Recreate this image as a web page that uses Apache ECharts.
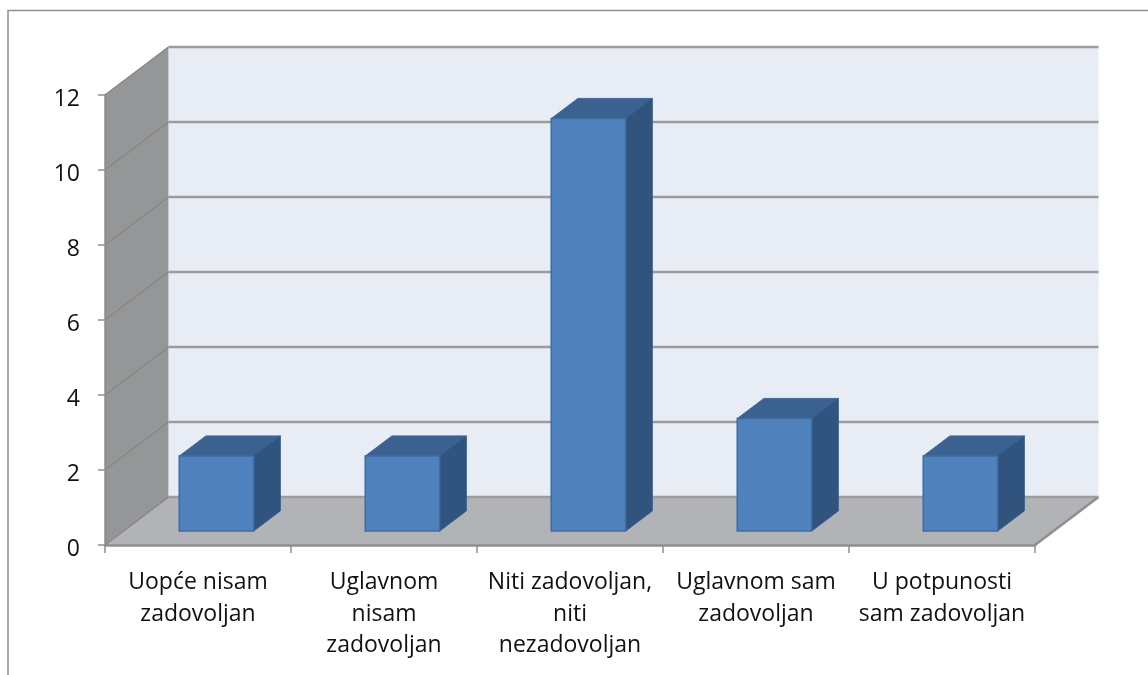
<!DOCTYPE html>
<html>
<head>
<meta charset="utf-8">
<style>html,body{margin:0;padding:0;background:#fff}#c{width:1148px;height:675px}</style>
<script src="https://cdn.jsdelivr.net/npm/echarts@6/dist/echarts.min.js"></script>
</head>
<body>
<div id="c"></div>
<script>
const categories = ['Uopće nisam\nzadovoljan', 'Uglavnom\nnisam\nzadovoljan', 'Niti zadovoljan,\nniti\nnezadovoljan', 'Uglavnom sam\nzadovoljan', 'U potpunosti\nsam zadovoljan'];
const values = [2, 2, 11, 3, 2];
const yTicks = [0, 2, 4, 6, 8, 10, 12];

const DX = 63.5, DY = -48;          // depth vector of the 3D box
const BAR_NEAR = 0.29, BAR_FAR = 0.71, BAR_W = 0.4;
const FONT = '"Open Sans", "Noto Sans", sans-serif';
const AXIS_COLOR = '#8e8e8e';

function poly(points, fill, stroke, lw) {
  return { type: 'polygon', shape: { points }, style: { fill, stroke: stroke || null, lineWidth: lw || 0 } };
}
function line(a, b, stroke, lw) {
  return { type: 'line', shape: { x1: a[0], y1: a[1], x2: b[0], y2: b[1] }, style: { stroke, lineWidth: lw } };
}

function renderWalls(params, api) {
  const band = api.size([1, 0])[0];
  const l = api.coord([0, 0])[0] - band / 2;
  const r = l + band * categories.length;
  const y0 = api.coord([0, 0])[1];
  const yT = api.coord([0, yTicks[yTicks.length - 1]])[1];
  return { type: 'group', children: [
    poly([[l + DX, yT + DY], [r + DX, yT + DY], [r + DX, y0 + DY], [l + DX, y0 + DY]], '#e8ecf5'),
    poly([[l, yT], [l + DX, yT + DY], [l + DX, y0 + DY], [l, y0]], '#959698'),
    poly([[l, y0], [l + DX, y0 + DY], [r + DX, y0 + DY], [r, y0]], '#b1b3b6'),
    line([l + DX, yT + DY], [l + DX, y0 + DY], '#c9ccd2', 1),
    line([r, y0], [r + DX, y0 + DY], AXIS_COLOR, 2.5),
  ]};
}

function renderGrid(params, api) {
  const band = api.size([1, 0])[0];
  const l = api.coord([0, 0])[0] - band / 2;
  const r = l + band * categories.length;
  const y = api.coord([0, api.value(1)])[1];
  return { type: 'group', children: [
    line([l, y], [l + DX, y + DY], '#868686', 1.5),
    line([l + DX, y + DY], [r + DX, y + DY], '#9c9c9c', 2.5),
  ]};
}

function renderBar(params, api) {
  const i = api.value(0);
  const c = api.coord([i, 0]);
  const top = api.coord([i, api.value(1)])[1];
  const band = api.size([1, 0])[0];
  const w = band * BAR_W;
  const nx = DX * BAR_NEAR, ny = DY * BAR_NEAR;
  const fx = DX * BAR_FAR, fy = DY * BAR_FAR;
  const xL = c[0] - w / 2 + nx, xR = xL + w;
  const yT = top + ny, yB = c[1] + ny;
  const ddx = fx - nx, ddy = fy - ny;
  return { type: 'group', children: [
    poly([[xL, yT], [xR, yT], [xR + ddx, yT + ddy], [xL + ddx, yT + ddy]], '#3a6190', '#3f6b9f', 1),
    poly([[xR, yT], [xR + ddx, yT + ddy], [xR + ddx, yB + ddy], [xR, yB]], '#31547f', '#355b88', 1),
    poly([[xL, yT], [xR, yT], [xR, yB], [xL, yB]], '#4f81bd', '#3e6ca5', 1.5),
  ]};
}

const chart = echarts.init(document.getElementById('c'), null, { renderer: 'canvas' });
chart.setOption({
  animation: false,
  backgroundColor: '#ffffff',
  graphic: [{
    type: 'polyline', silent: true, z: 0,
    shape: { points: [[8, 675], [8, 10.5], [1148, 10.5]] },
    style: { stroke: '#8f8f8f', lineWidth: 1.5, fill: null }
  }],
  grid: { left: 105, top: 95, width: 930, height: 450, containLabel: false },
  xAxis: {
    type: 'category', data: categories, z: 5,
    axisLine: { lineStyle: { color: AXIS_COLOR, width: 2.5 } },
    axisTick: { show: true, length: 8, alignWithLabel: false, interval: 0, lineStyle: { color: AXIS_COLOR, width: 1.5 } },
    axisLabel: { interval: 0, margin: 22, color: '#111', fontSize: 23, lineHeight: 31.5, fontFamily: FONT, hideOverlap: false },
    splitLine: { show: false }
  },
  yAxis: {
    type: 'value', min: 0, max: 12, interval: 2, z: 5,
    axisLine: { show: true, lineStyle: { color: AXIS_COLOR, width: 2.5 } },
    axisTick: { show: true, length: 7, lineStyle: { color: AXIS_COLOR, width: 1.5 } },
    axisLabel: {
      margin: 25, formatter: '{n|{value}}',
      rich: { n: { color: '#111', fontSize: 23, fontFamily: FONT, lineHeight: 23, padding: [8, 0, 0, 0] } }
    },
    splitLine: { show: false }
  },
  tooltip: { show: false },
  series: [
    { type: 'custom', z: 1, silent: true, clip: false, renderItem: renderWalls, data: [[0, 0]] },
    { type: 'custom', z: 2, silent: true, clip: false, renderItem: renderGrid, data: yTicks.map(v => [0, v]) },
    { type: 'custom', z: 3, silent: true, clip: false, renderItem: renderBar, data: values.map((v, i) => [i, v]) },
  ]
});
</script>
</body>
</html>
